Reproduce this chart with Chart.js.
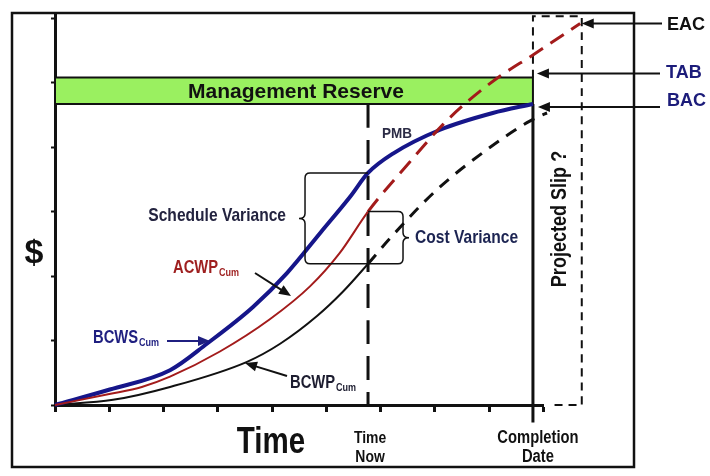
<!DOCTYPE html>
<html>
<head>
<meta charset="utf-8">
<script src="https://cdn.jsdelivr.net/npm/chart.js@4.4.0/dist/chart.umd.min.js"></script>
<style>
html, body { margin: 0; background: #fff; }
#wrap { width: 710px; height: 476px; position: relative; }
</style>
</head>
<body>
<div id="wrap"><canvas id="chart"></canvas></div>
<script>
// Earned value S-curves: BCWS / ACWP / BCWP, forecast to EAC
const timeNow = 5.77;
const completion = 8.81;
const slipEnd = 9.71;
const bac = 4.67;
const tab = 5.08;
const eac = 5.92;

// BCWS (PMB), cumulative
const bcwsX = [0, 1.01, 2.12, 2.80, 3.65, 4.28, 4.90, 5.44, 5.77, 6.23, 7.10, 8.07, 8.81];
const bcwsY = [0, 0.24, 0.54, 0.95, 1.52, 2.05, 2.68, 3.23, 3.60, 3.90, 4.27, 4.53, 4.67];
// ACWP, cumulative (dashed after time now, up to EAC)
const acwpX = [0, 1.0, 1.6, 2.12, 3.04, 3.96, 4.70, 5.25, 5.77, 6.54, 7.15, 7.65, 8.20, 8.81, 9.68];
const acwpY = [0, 0.17, 0.28, 0.44, 0.83, 1.33, 1.84, 2.36, 3.00, 3.77, 4.35, 4.74, 5.10, 5.43, 5.92];
// BCWP, cumulative (dashed after time now)
const bcwpX = [0, 1.07, 2.12, 3.54, 4.15, 4.83, 5.31, 5.77, 6.18, 7.04, 7.96, 8.70, 9.07, 9.68];
const bcwpY = [0, 0.08, 0.28, 0.67, 0.95, 1.38, 1.76, 2.19, 2.59, 3.34, 3.96, 4.38, 4.53, 4.66];

const xTicks = [0, 1, 2, 3, 4, 5, 6, 7, 8, 9];
const yTicks = [0, 1, 2, 3, 4, 5, 6];

const pts = (xs, ys) => xs.map((x, i) => ({ x: x, y: ys[i] }));
const atNow = (xs, ys) => ys[xs.indexOf(timeNow)];

const FONT = '"Liberation Sans", Arial, sans-serif';

function txt(ctx, s, x, y, size, color, opt) {
    opt = opt || {};
    ctx.save();
    ctx.font = 'bold ' + size + 'px ' + FONT;
    ctx.fillStyle = color;
    ctx.textBaseline = 'alphabetic';
    ctx.textAlign = opt.align || 'left';
    ctx.translate(x, y);
    if (opt.rot) ctx.rotate(opt.rot);
    ctx.scale(opt.sx || 1, 1);
    ctx.fillText(s, 0, size * 0.36);
    const w = ctx.measureText(s).width * (opt.sx || 1);
    ctx.restore();
    return w;
}

function subLabel(ctx, main, sub, x, y, color) {
    const w = txt(ctx, main, x, y, 18, color, { sx: 0.82 });
    txt(ctx, sub, x + w + 1, y + 5, 11, color, { sx: 0.82 });
}

function arrow(ctx, x0, y0, x1, y1, color) {
    const a = Math.atan2(y1 - y0, x1 - x0);
    const L = 12, W = 5;
    ctx.save();
    ctx.strokeStyle = color; ctx.fillStyle = color; ctx.lineWidth = 2;
    ctx.beginPath();
    ctx.moveTo(x0, y0);
    ctx.lineTo(x1 - Math.cos(a) * L * 0.8, y1 - Math.sin(a) * L * 0.8);
    ctx.stroke();
    ctx.beginPath();
    ctx.moveTo(x1, y1);
    ctx.lineTo(x1 - Math.cos(a) * L - Math.sin(a) * W, y1 - Math.sin(a) * L + Math.cos(a) * W);
    ctx.lineTo(x1 - Math.cos(a) * L + Math.sin(a) * W, y1 - Math.sin(a) * L - Math.cos(a) * W);
    ctx.closePath();
    ctx.fill();
    ctx.restore();
}

// brace: arms run from xLine to xb, dir -1 points left, +1 points right
function brace(ctx, xLine, xb, yTop, yBot, dir) {
    const r = 5, mid = (yTop + yBot) / 2;
    ctx.save();
    ctx.strokeStyle = '#111'; ctx.lineWidth = 1.5;
    ctx.beginPath();
    ctx.moveTo(xLine, yTop);
    ctx.lineTo(xb - dir * r, yTop);
    ctx.quadraticCurveTo(xb, yTop, xb, yTop + r);
    ctx.lineTo(xb, mid - r);
    ctx.quadraticCurveTo(xb, mid, xb + dir * 6, mid);
    ctx.quadraticCurveTo(xb, mid, xb, mid + r);
    ctx.lineTo(xb, yBot - r);
    ctx.quadraticCurveTo(xb, yBot, xb - dir * r, yBot);
    ctx.lineTo(xLine, yBot);
    ctx.stroke();
    ctx.restore();
}

const annotations = {
    id: 'annotations',
    afterDraw(chart) {
        const ctx = chart.ctx;
        const xs = chart.scales.x, ys = chart.scales.y;
        const X = v => xs.getPixelForValue(v), Y = v => ys.getPixelForValue(v);

        // outer frame
        ctx.save();
        ctx.strokeStyle = '#111'; ctx.lineWidth = 2.5;
        ctx.strokeRect(12, 13, 622, 454);
        ctx.restore();

        txt(ctx, 'Management Reserve', (X(0) + X(completion)) / 2 + 2, (Y(bac) + Y(tab)) / 2, 21, '#111', { align: 'center' });

        // variance braces at time now
        const yS = Y(atNow(bcwsX, bcwsY)), yA = Y(atNow(acwpX, acwpY)), yP = Y(atNow(bcwpX, bcwpY));
        brace(ctx, X(timeNow), X(timeNow) - 63, yS, yP, -1);
        brace(ctx, X(timeNow), X(timeNow) + 35, yA, yP, 1);
        txt(ctx, 'Schedule Variance', 286, 214, 19, '#23233f', { align: 'right', sx: 0.82 });
        txt(ctx, 'Cost Variance', 415, 236, 19, '#1c2452', { sx: 0.82 });
        txt(ctx, 'PMB', 382, 133, 15, '#2b2b45', { sx: 0.9 });

        subLabel(ctx, 'ACWP', 'Cum', 173, 267, '#9e1f1f');
        subLabel(ctx, 'BCWS', 'Cum', 93, 337, '#1f1f80');
        subLabel(ctx, 'BCWP', 'Cum', 290, 382, '#1d1d30');
        arrow(ctx, 255, 273, 291, 296, '#111');
        arrow(ctx, 167, 341, 210, 341, '#1f1f80');
        arrow(ctx, 287, 376, 245, 363, '#111');

        txt(ctx, '$', 34, 251, 34, '#111', { align: 'center' });
        txt(ctx, 'Time', 271, 440, 36, '#111', { align: 'center', sx: 0.82 });
        txt(ctx, 'Time', X(timeNow) + 2, 437, 17, '#111', { align: 'center', sx: 0.82 });
        txt(ctx, 'Now', X(timeNow) + 2, 456, 17, '#111', { align: 'center', sx: 0.82 });
        txt(ctx, 'Completion', X(completion) + 5, 437, 18, '#111', { align: 'center', sx: 0.82 });
        txt(ctx, 'Date', X(completion) + 5, 456, 18, '#111', { align: 'center', sx: 0.82 });
        txt(ctx, 'Projected Slip ?', 558, 219, 22, '#111', { align: 'center', sx: 0.82, rot: -Math.PI / 2 });

        // right-hand markers
        arrow(ctx, 662, Y(eac), X(slipEnd), Y(eac), '#111');
        arrow(ctx, 660, Y(tab) - 4, X(completion) + 4, Y(tab) - 4, '#111');
        arrow(ctx, 660, Y(bac) + 3, X(completion) + 5, Y(bac) + 3, '#111');
        txt(ctx, 'EAC', 667, Y(eac), 19, '#111', { sx: 0.95 });
        txt(ctx, 'TAB', 666, 71, 19, '#1c1c7a', { sx: 0.95 });
        txt(ctx, 'BAC', 667, 99, 19, '#1c1c7a', { sx: 0.95 });
    }
};

function build() {
    const ctx = document.getElementById('chart').getContext('2d');
    const after = (c, a, b) => c.p0.parsed.x >= timeNow - 1e-6 ? a : b;
    new Chart(ctx, {
        type: 'scatter',
        data: {
            datasets: [
                {   // ACWP, then EAC forecast
                    data: pts(acwpX, acwpY), order: 1,
                    borderColor: '#a31b1b', borderWidth: 2,
                    segment: { borderDash: c => after(c, [16, 9], []), borderWidth: c => after(c, 3, 2) }
                },
                {   // BCWS
                    data: pts(bcwsX, bcwsY), order: 2,
                    borderColor: '#16168a', borderWidth: 4
                },
                {   // BCWP, then forecast
                    data: pts(bcwpX, bcwpY), order: 3,
                    borderColor: '#111', borderWidth: 2,
                    segment: { borderDash: c => after(c, [12, 9], []), borderWidth: c => after(c, 3, 2) }
                },
                {   // time now
                    data: [{ x: timeNow, y: bac }, { x: timeNow, y: 0 }], order: 4,
                    borderColor: '#111', borderWidth: 3, borderDash: [24, 12], tension: 0
                },
                {   // completion date
                    data: [{ x: completion, y: bac }, { x: completion, y: -0.27 }], order: 4,
                    borderColor: '#111', borderWidth: 3, tension: 0
                },
                {   // projected slip box
                    data: [{ x: completion, y: tab }, { x: completion, y: 6.03 }, { x: slipEnd, y: 6.03 }, { x: slipEnd, y: 0 }, { x: 9.16, y: 0 }],
                    order: 4, borderColor: '#111', borderWidth: 2, borderDash: [8, 6], tension: 0
                },
                {   // management reserve band
                    data: [{ x: 0, y: bac }, { x: completion, y: bac }, { x: completion, y: tab }, { x: 0, y: tab }, { x: 0, y: bac }],
                    order: 10, borderColor: '#111', borderWidth: 2, backgroundColor: '#9af060', fill: 'shape', tension: 0
                }
            ]
        },
        options: {
            responsive: true, maintainAspectRatio: false, animation: false,
            showLine: true,
            layout: { padding: { left: 51, right: 166.75, top: 15, bottom: 64 } },
            elements: {
                point: { radius: 0, hoverRadius: 0 },
                line: { cubicInterpolationMode: 'monotone', borderCapStyle: 'butt' }
            },
            datasets: { scatter: { clip: false } },
            plugins: { legend: { display: false }, tooltip: { enabled: false } },
            scales: {
                x: {
                    type: 'linear', min: 0, max: 9,
                    afterFit: s => { s.height = 7; },
                    afterBuildTicks: s => { s.ticks = xTicks.map(v => ({ value: v })); },
                    ticks: { display: false },
                    grid: { drawOnChartArea: false, tickLength: 7, tickWidth: 3, tickColor: '#111' },
                    border: { color: '#111', width: 3 }
                },
                y: {
                    type: 'linear', min: 0, max: 6.05,
                    afterFit: s => { s.width = 4; },
                    afterBuildTicks: s => { s.ticks = yTicks.map(v => ({ value: v })); },
                    ticks: { display: false },
                    grid: { drawOnChartArea: false, tickLength: 4, tickWidth: 2, tickColor: '#111' },
                    border: { color: '#111', width: 3 }
                }
            }
        },
        plugins: [annotations]
    });
}
build();
</script>
</body>
</html>
